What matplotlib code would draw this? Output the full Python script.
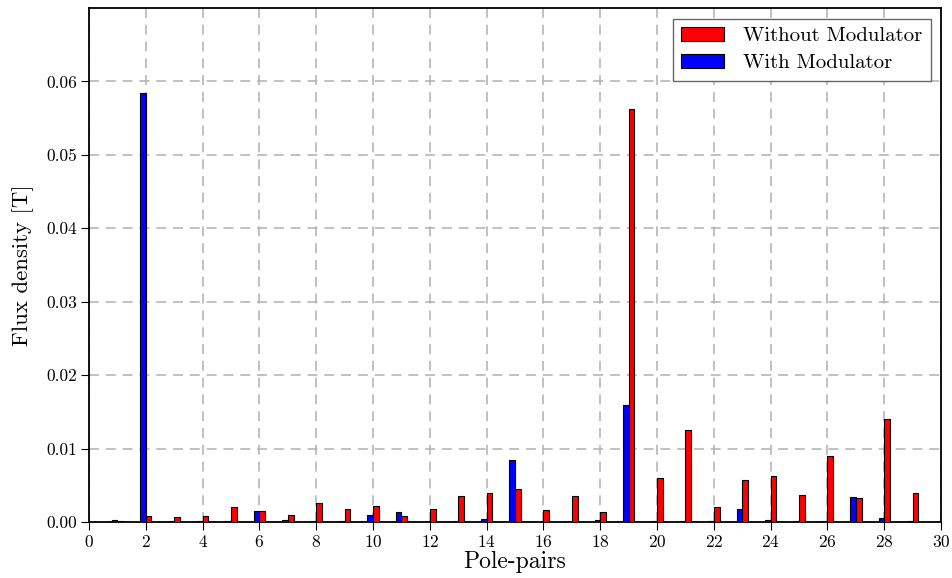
import numpy as np
import matplotlib
matplotlib.use("Agg")
import matplotlib.pyplot as plt

plt.rcParams['font.family'] = 'serif'
plt.rcParams['font.serif'] = ['cmr10', 'DejaVu Serif']
plt.rcParams['mathtext.fontset'] = 'cm'
plt.rcParams['axes.unicode_minus'] = False
plt.rcParams['axes.formatter.use_mathtext'] = True

# pole-pair orders
pairs = np.arange(1, 30)

# flux density with modulator [T]
with_mod = [0.0003, 0.0584, 0.0001, 0.0001, 0.0001, 0.00146, 0.0003, 0.0001, 0.0001, 0.00095,
            0.0013, 0.00005, 0.0001, 0.0004, 0.0084, 0.00005, 0.00005, 0.0003, 0.0159, 0.0001,
            0.0001, 0.0001, 0.0017, 0.0003, 0.0001, 0.0001, 0.0034, 0.0006, 0.0001]

# flux density without modulator [T]
without_mod = [0.0001, 0.0008, 0.0007, 0.0008, 0.002, 0.00146, 0.00095, 0.0026, 0.0017, 0.0022,
               0.0008, 0.0017, 0.0036, 0.004, 0.0045, 0.0016, 0.0036, 0.0014, 0.0563, 0.006,
               0.01255, 0.002, 0.0057, 0.0063, 0.0037, 0.009, 0.0032, 0.014, 0.0039]

fig = plt.figure(figsize=(9.52, 5.78), dpi=100)
ax = fig.add_axes([0.0935, 0.097, 0.8950, 0.889])

w = 0.2
ax.bar(pairs, without_mod, w, align='edge', color='red', edgecolor='black',
       linewidth=0.8, label='Without Modulator', zorder=3)
ax.bar(pairs - w, with_mod, w, align='edge', color='blue', edgecolor='black',
       linewidth=0.8, label='With Modulator', zorder=3)

ax.set_xlim(0, 30)
ax.set_ylim(0, 0.07)
ax.set_xticks(np.arange(0, 31, 2))
ax.set_yticks(np.arange(0, 0.061, 0.01))
ax.yaxis.set_major_formatter(matplotlib.ticker.FormatStrFormatter('%.2f'))
ax.tick_params(labelsize=12.5, direction='out', top=False, right=False,
               length=6, pad=2.5)
ax.grid(True, linestyle=(0, (6.5, 4.5)), color='#b0b0b0', linewidth=1.1, zorder=0)
for s in ax.spines.values():
    s.set_linewidth(1.3)

ax.set_xlabel('Pole-pairs', fontsize=17, labelpad=1)
ax.set_ylabel('Flux density [T]', fontsize=16.4, labelpad=9)

leg = ax.legend(loc='upper right', fontsize=15, fancybox=False, framealpha=1,
                borderpad=0.4, handlelength=2.06, handletextpad=0.9,
                labelspacing=0.4, borderaxespad=0.5)
leg.get_frame().set_edgecolor('#666666')

fig.savefig('out.png', dpi=100)
